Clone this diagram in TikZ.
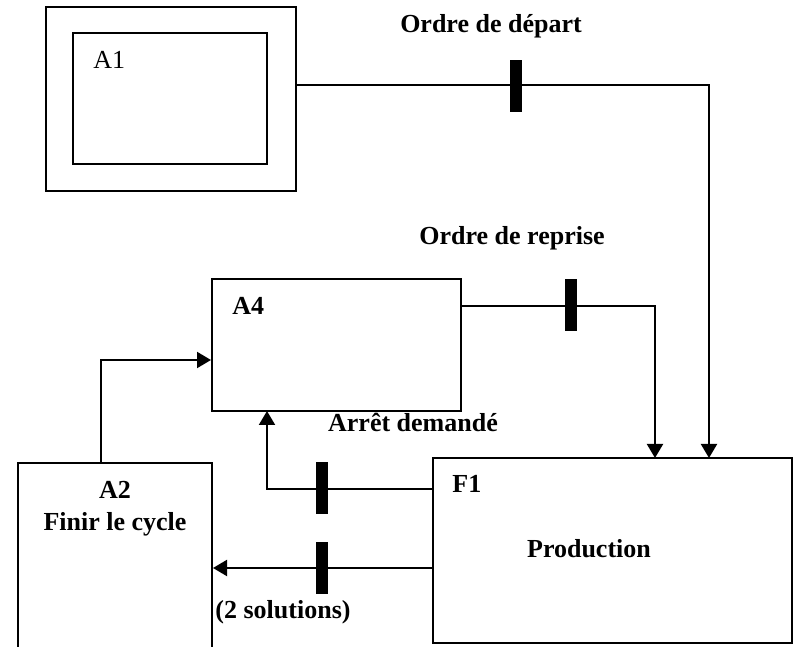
\documentclass[tikz,border=0pt]{standalone}
\usepackage{fontspec}
\setmainfont{Liberation Serif}
\usetikzlibrary{positioning,arrows.meta}
\tikzset{
  >={Triangle[length=7pt,width=8pt]},
  box/.style={draw, line width=1pt, inner sep=0pt},
  lbl/.style={font=\fontsize{13}{16}\selectfont\bfseries, inner sep=0pt},
  stopbar/.style={fill=black, minimum width=6pt, minimum height=26pt, inner sep=0pt},
  flow/.style={draw, line width=1pt},
}
\begin{document}
\begin{tikzpicture}[x=0.5pt,y=-0.5pt]
  \useasboundingbox (0,0) rectangle (800,647);
  % boxes
  \node[box, minimum width=125pt, minimum height=92pt] (a1out) at (171,99) {};
  \node[box, minimum width=97pt, minimum height=65.5pt] (a1in) at (170,98.5) {};
  \node[box, minimum width=124.5pt, minimum height=66pt] (a4) at (336.5,345) {};
  \node[box, minimum width=179.5pt, minimum height=92.5pt] (f1) at (612.5,550.5) {};
  \node[box, minimum width=97pt, minimum height=94pt] (a2) at (115,557) {};
  % texts in boxes
  \node[font=\fontsize{13}{16}\selectfont, inner sep=0pt, anchor=base west] (a1txt) at (93,69) {A1};
  \node[lbl, anchor=base west] (a4txt) at (232,315) {A4};
  \node[lbl, anchor=base west] (f1txt) at (452,493) {F1};
  \node[lbl, anchor=base] (prod) at (589,558) {Production};
  \node[lbl, anchor=north, align=center] (a2txt) at (115,481) {A2\\Finir le cycle};
  % flow labels
  \node[lbl, anchor=base] (depart) at (491,33) {Ordre de départ};
  \node[lbl, anchor=base] (reprise) at (512,245) {Ordre de reprise};
  \node[lbl, anchor=base] (arret) at (413,432) {Arrêt demandé};
  \node[lbl, anchor=base] (sol) at (283,618) {(2 solutions)};
  % ports
  \coordinate (f1in1) at (655,458);
  \coordinate (f1in2) at (709,458);
  \coordinate (f1out1) at (433,489);
  \coordinate (f1out2) at (433,568);
  \coordinate (a4in) at (267,411);
  % connectors
  \draw[flow,->] ([yshift=7pt]a1out.east) -| (f1in2);
  \draw[flow,->] ([yshift=19.5pt]a4.east) -| (f1in1);
  \draw[flow,->] (f1out1) -| (a4in);
  \draw[flow,->] (f1out2) -- (f1out2 -| a2.east);
  \draw[flow,->] ([xshift=-7pt]a2.north) |- ([yshift=-7.5pt]a4.west);
  % bars
  \node[stopbar] (bar1) at (516,86) {};
  \node[stopbar] (bar2) at (571,305.5) {};
  \node[stopbar] (bar3) at (322,488) {};
  \node[stopbar] (bar4) at (322,568.5) {};
\end{tikzpicture}
\end{document}
